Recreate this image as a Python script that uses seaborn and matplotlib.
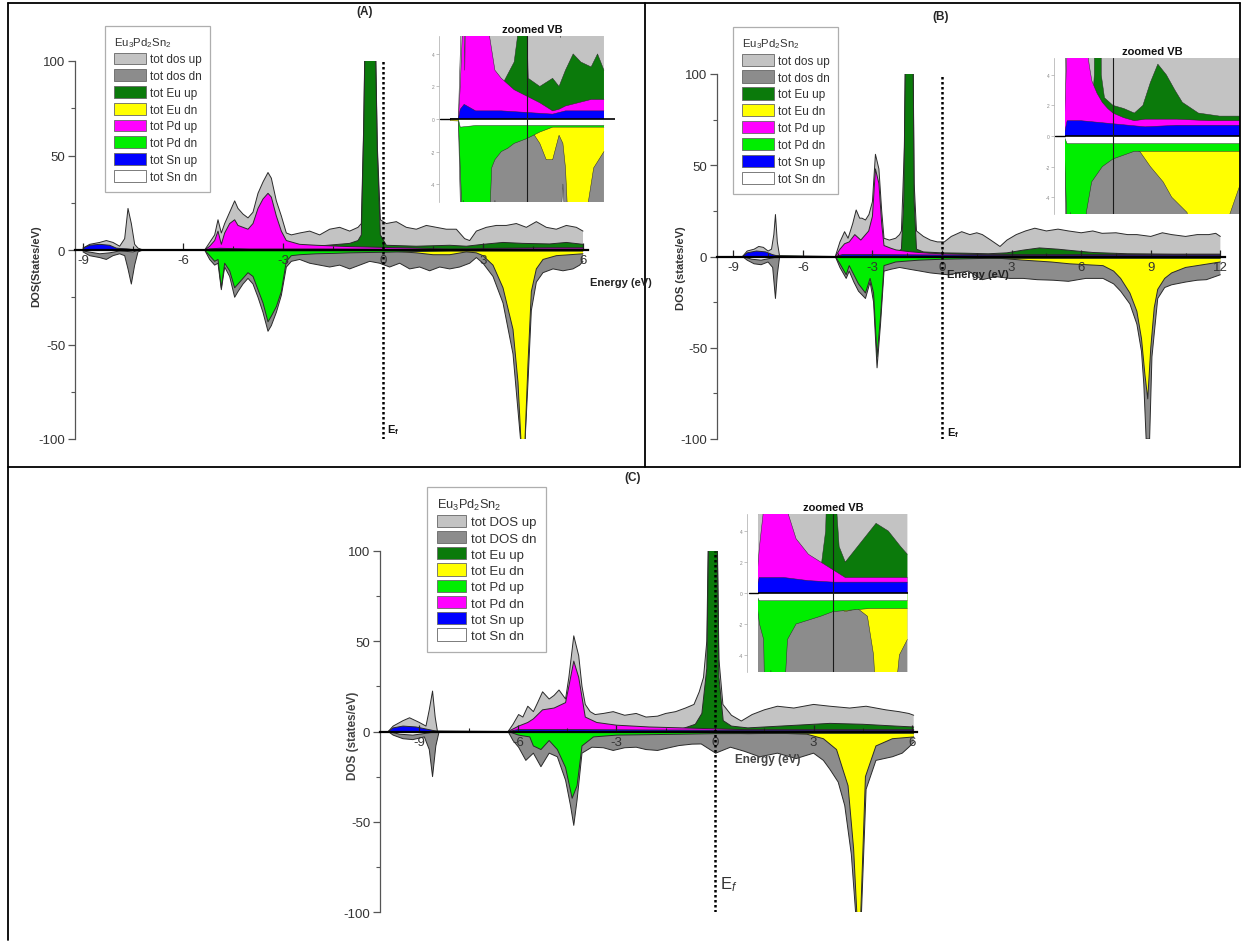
import numpy as np
import matplotlib
matplotlib.use("Agg")
import matplotlib.pyplot as plt
from matplotlib.patches import Patch
from matplotlib.lines import Line2D
import seaborn as sns

sns.set_style("white")
plt.rcParams['font.family'] = ['Liberation Sans', 'DejaVu Sans']
plt.rcParams['mathtext.fontset'] = 'custom'
plt.rcParams['mathtext.rm'] = 'Liberation Sans'
plt.rcParams['mathtext.it'] = 'Liberation Sans:italic'
plt.rcParams['mathtext.bf'] = 'Liberation Sans:bold'
plt.rcParams['axes.unicode_minus'] = False

# ------------------------------------------------------------------ data
# (energy eV, DOS states/eV)
A_tot_up = [(-9.0,1),(-8.8,3),(-8.5,4),(-8.3,5),(-8.1,4),(-7.9,2),(-7.75,6),(-7.65,22),(-7.55,14),(-7.45,3),(-7.35,1),(-7.2,0),
            (-5.35,0),(-5.2,4),(-5.05,8),(-4.95,16),(-4.85,9),(-4.75,14),(-4.6,20),(-4.45,26),(-4.35,22),(-4.2,19),(-4.05,17),
            (-3.9,20),(-3.75,30),(-3.6,36),(-3.45,41),(-3.35,38),(-3.2,26),(-3.05,18),(-2.9,9),(-2.75,8),(-2.5,9),(-2.2,10),
            (-1.9,8),(-1.6,11),(-1.3,12),(-1.0,10),(-0.75,12),(-0.65,14),(-0.58,65),(-0.52,135),(-0.25,135),(-0.17,55),
            (-0.08,16),(0.1,14),(0.4,15),(0.7,12),(1.0,11),(1.3,13),(1.6,12),(1.9,11),(2.2,11),(2.45,6),(2.6,5),(2.8,10),
            (3.1,12),(3.4,13),(3.7,13),(4.0,14),(4.3,12),(4.6,15),(4.9,12),(5.2,11),(5.5,13),(5.8,12),(6.0,10)]
A_eu_up = [(-9.0,0.3),(-7.7,0.5),(-7.3,0),(-5.35,0),(-4.0,0.5),(-3.0,1.5),(-2.0,2),(-1.0,3.5),(-0.75,5),(-0.65,8),
           (-0.58,62),(-0.52,132),(-0.25,132),(-0.17,52),(-0.08,8),(0.1,2.5),(1.0,2),(2.0,2.5),(2.5,2),(3.0,3),(3.6,4),
           (4.2,3.5),(5.0,3.2),(5.5,4),(6.0,3)]
A_pd_up = [(-5.35,0),(-5.2,2),(-5.05,5),(-4.95,10),(-4.85,3),(-4.75,9),(-4.6,14),(-4.45,16),(-4.35,13),(-4.2,12),(-4.05,11),
           (-3.9,14),(-3.75,22),(-3.6,27),(-3.45,30),(-3.35,28),(-3.2,18),(-3.05,10),(-2.9,5),(-2.5,3),(-2.0,2.5),
           (-1.0,1.8),(0.0,1.4),(1.0,1.0),(2.0,0.5),(2.5,0.6),(3.0,0.8),(4.0,1.0),(5.0,1.2),(6.0,1.2)]
A_sn_up = [(-9.0,1),(-8.8,2.5),(-8.5,3),(-8.2,2.5),(-8.0,1),(-7.7,0.5),(-7.4,0),(-5.35,0),(-5.2,0.6),(-4.9,0.9),
           (-4.0,0.5),(-2.0,0.5),(0.0,0.4),(2.0,0.3),(3.0,0.5),(6.0,0.5)]
A_tot_dn = [(-9.0,-1),(-8.8,-3),(-8.5,-4),(-8.3,-5),(-8.1,-3),(-7.9,-2),(-7.75,-3),(-7.65,-10),(-7.55,-18),(-7.45,-8),
            (-7.35,-1),(-7.2,0),(-5.35,0),(-5.2,-5),(-5.05,-8),(-4.95,-7),(-4.85,-21),(-4.75,-9),(-4.6,-14),(-4.45,-25),
            (-4.35,-22),(-4.2,-18),(-4.05,-15),(-3.9,-18),(-3.75,-25),(-3.6,-33),(-3.45,-43),(-3.35,-40),(-3.2,-33),
            (-3.05,-24),(-2.9,-9),(-2.75,-6),(-2.5,-5),(-2.2,-7),(-1.9,-8),(-1.6,-9),(-1.3,-8),(-1.0,-10),(-0.7,-8),
            (-0.4,-6),(-0.1,-7),(0.2,-9),(0.5,-7),(0.8,-10),(1.1,-9),(1.4,-11),(1.7,-9),(2.0,-10),(2.3,-9),(2.6,-7),
            (2.8,-4),(3.0,-7),(3.3,-14),(3.6,-28),(3.9,-55),(4.05,-85),(4.15,-105),(4.25,-105),(4.35,-70),(4.45,-32),
            (4.6,-17),(4.8,-12),(5.1,-10),(5.4,-11),(5.7,-10),(5.9,-8),(6.0,-6)]
A_eu_dn = [(-9.0,0),(0.0,-0.3),(1.0,-1.5),(1.5,-2.5),(2.0,-2.5),(2.5,-1),(2.8,-1.5),(3.0,-3),(3.3,-8),(3.6,-20),
           (3.9,-42),(4.05,-70),(4.15,-105),(4.25,-105),(4.35,-60),(4.45,-22),(4.6,-10),(4.8,-5),(5.2,-3),(5.6,-2.5),(6.0,-2)]
A_pd_dn = [(-5.35,0),(-5.2,-3),(-5.05,-6),(-4.95,-5),(-4.85,-20),(-4.75,-7),(-4.6,-11),(-4.45,-20),(-4.35,-18),
           (-4.2,-15),(-4.05,-12),(-3.9,-14),(-3.75,-21),(-3.6,-28),(-3.45,-38),(-3.35,-35),(-3.2,-30),(-3.05,-22),
           (-2.9,-6),(-2.75,-3),(-2.5,-2.5),(-2.0,-2),(-1.5,-1.8),(-1.0,-1.5),(0.0,-1.2),(1.0,-0.8),(2.0,-0.5),(6.0,-0.5)]
A_sn_dn = [(-9.0,-0.5),(-8.5,-2),(-8.2,-1.5),(-7.9,-0.5),(-7.5,-1),(-7.3,0),(-5.35,0),(-5.2,-0.5),(-4.0,-0.4),
           (0.0,-0.4),(3.0,-0.4),(6.0,-0.4)]

B_tot_up = [(-8.6,0),(-8.4,3),(-8.1,4),(-7.9,5.5),(-7.7,5),(-7.5,3),(-7.35,4),(-7.25,12),(-7.18,23),(-7.1,8),(-7.0,0),
            (-4.6,0),(-4.4,8),(-4.2,13.6),(-4.05,10),(-3.85,18),(-3.7,25.5),(-3.55,21),(-3.45,21),(-3.3,20),(-3.15,23),
            (-3.0,30),(-2.87,56),(-2.72,48),(-2.6,25),(-2.5,10),(-2.27,9),(-2.0,10),(-1.83,12),(-1.75,14),(-1.62,60),
            (-1.56,130),(-1.26,130),(-1.2,40),(-1.1,14),(-0.8,11),(-0.5,9),(-0.2,8),(0.1,8),(0.4,11),(0.85,13.6),
            (1.2,12),(1.5,13),(1.74,12),(2.1,9),(2.5,5.5),(2.8,9),(3.2,12),(3.6,14),(4.0,15.5),(4.5,14),(5.0,15),
            (5.45,14),(6.0,13),(6.5,14),(6.9,12.7),(7.5,13),(8.0,12),(8.4,12),(9.0,11),(9.5,13),(9.9,12),(10.5,11),
            (11.0,12),(11.5,12),(11.8,12.7),(12.0,11)]
B_eu_up = [(-8.6,0),(-7.0,0.5),(-4.6,0),(-3.0,1),(-2.0,1.5),(-1.75,4),(-1.65,30),(-1.56,130),(-1.26,130),(-1.2,30),
           (-1.1,4),(-0.8,2.5),(0.0,2),(1.0,1.8),(2.0,1.5),(2.8,2),(3.5,3.5),(4.2,4.7),(5.0,4),(5.8,3),(6.5,2.2),
           (8.0,1.5),(10.0,1.3),(12.0,1.3)]
B_pd_up = [(-4.6,0),(-4.4,4),(-4.2,7),(-4.0,8),(-3.76,12),(-3.5,9),(-3.16,14),(-3.0,22),(-2.87,48),(-2.72,40),
           (-2.6,18),(-2.5,6),(-2.2,4.5),(-1.98,3.6),(-1.5,2.8),(-1.0,2.2),(-0.5,1.8),(0.0,1.5),(1.0,1.2),(2.0,1.0),
           (3.0,1.1),(6.0,1.1),(9.0,1.0),(12.0,1.0)]
B_sn_up = [(-8.6,0),(-8.4,2),(-8.0,3),(-7.6,2.5),(-7.3,1),(-7.0,0),(-4.6,0),(-4.3,1),(-3.0,1),(0.0,0.8),(3.0,0.6),
           (6.0,0.7),(9.0,0.7),(12.0,0.7)]
B_tot_dn = [(-8.6,0),(-8.4,-2),(-8.1,-4),(-7.8,-4.5),(-7.5,-3),(-7.3,-6),(-7.18,-23),(-7.1,-10),(-7.0,0),(-4.6,0),
            (-4.4,-6),(-4.13,-12),(-4.0,-8),(-3.8,-14),(-3.6,-19),(-3.3,-23),(-3.1,-14),(-2.95,-25),(-2.8,-61),
            (-2.65,-37),(-2.5,-8),(-2.2,-7),(-1.83,-6),(-1.4,-7),(-0.94,-8),(-0.5,-9),(0.25,-10),(0.7,-9),(1.14,-8),
            (1.74,-12.7),(2.3,-11),(2.93,-12),(3.5,-12),(4.1,-12.7),(4.8,-13),(5.45,-13.6),(6.2,-12),(6.94,-12),
            (7.4,-15),(7.7,-19),(8.1,-26),(8.4,-37),(8.6,-52),(8.7,-70),(8.8,-100),(8.95,-100),(9.05,-55),(9.3,-23),
            (9.6,-17),(9.9,-15.5),(10.5,-14),(11.0,-13),(11.4,-12.7),(12.0,-10)]
B_eu_dn = [(-8.6,0),(0.0,-0.5),(2.5,-1),(3.5,-2),(4.7,-3),(5.5,-4),(6.94,-5),(7.4,-8),(7.7,-12),(8.1,-20),(8.4,-30),
           (8.6,-45),(8.75,-65),(8.87,-78),(9.0,-50),(9.15,-28),(9.3,-18),(9.6,-12),(9.9,-9),(10.5,-6),(11.0,-5),(12.0,-3)]
B_pd_dn = [(-4.6,0),(-4.4,-4),(-4.13,-10),(-4.0,-5),(-3.8,-10),(-3.6,-15),(-3.3,-20),(-3.1,-12),(-2.95,-20),
           (-2.8,-55),(-2.65,-33),(-2.5,-5),(-2.0,-3),(-1.0,-2),(0.0,-1.5),(2.0,-1),(6.0,-1),(12.0,-1)]
B_sn_dn = [(-8.6,0),(-8.2,-1.5),(-7.8,-2),(-7.4,-1),(-7.0,0),(-4.6,0),(-4.3,-0.5),(0.0,-0.5),(6.0,-0.5),(12.0,-0.5)]

C_tot_up = [(-9.95,0),(-9.8,3),(-9.5,6),(-9.3,7.6),(-9.0,5),(-8.8,3),(-8.7,12),(-8.6,22.4),(-8.52,8),(-8.45,0),
            (-6.3,0),(-6.15,4),(-5.98,9.4),(-5.85,8),(-5.7,14),(-5.53,11),(-5.4,16),(-5.25,22),(-5.05,18),(-4.9,20),
            (-4.75,23),(-4.55,18),(-4.45,30),(-4.3,53),(-4.15,42),(-4.05,25),(-3.95,15),(-3.8,11),(-3.65,9.4),(-3.4,10),
            (-3.1,11),(-2.75,9),(-2.4,10),(-2.1,8),(-1.75,8.5),(-1.5,10),(-1.2,11),(-0.9,13),(-0.64,15),(-0.48,22),
            (-0.35,30),(-0.25,50),(-0.18,135),(0.05,135),(0.12,40),(0.24,15),(0.5,9),(0.8,5.8),(1.13,9.4),(1.5,12),
            (1.9,14),(2.4,13),(3.0,15),(3.5,14),(4.1,13),(4.6,14),(5.2,12),(5.6,11),(5.9,10),(6.05,9)]
C_eu_up = [(-9.95,0),(-8.45,0.3),(-6.3,0),(-4.0,0.8),(-2.0,1.2),(-1.0,1.5),(-0.6,4),(-0.4,10),(-0.25,35),(-0.18,130),
           (0.05,130),(0.12,30),(0.25,6),(0.5,3),(1.0,2),(1.5,2.5),(2.5,3.5),(3.5,4.5),(4.5,4),(5.5,3),(6.05,2.5)]
C_pd_up = [(-6.3,0),(-5.98,3),(-5.7,5),(-5.53,7),(-5.25,12),(-4.9,13),(-4.55,16),(-4.45,25),(-4.3,39),(-4.15,30),
           (-3.95,8),(-3.6,5),(-3.0,3.5),(-2.0,2.5),(-1.0,2),(0.0,1.5),(1.0,1),(3.0,1),(6.05,1)]
C_sn_up = [(-9.95,0),(-9.8,2),(-9.5,3),(-9.1,2.5),(-8.7,1),(-8.45,0),(-6.3,0),(-6.0,1),(-4.0,1),(-2.0,0.8),(0.0,0.7),
           (3.0,0.7),(6.05,0.7)]
C_tot_dn = [(-9.95,0),(-9.8,-2),(-9.5,-4),(-9.2,-4.5),(-8.85,-3),(-8.7,-10),(-8.6,-25),(-8.5,-8),(-8.4,0),
            (-6.3,0),(-6.15,-5),(-5.98,-8.7),(-5.76,-16),(-5.53,-12),(-5.3,-19.5),(-5.05,-12),(-4.8,-14),(-4.55,-27),
            (-4.4,-41),(-4.3,-52),(-4.2,-38),(-4.05,-12),(-3.75,-8.7),(-3.4,-9),(-3.1,-10.5),(-2.75,-9),(-2.4,-8.7),
            (-2.1,-10),(-1.75,-10.5),(-1.4,-9),(-1.1,-7.8),(-0.7,-7),(-0.42,-6.9),(0.02,-12),(0.47,-8.7),(0.9,-11),
            (1.36,-14),(1.9,-12),(2.47,-15),(3.0,-12),(3.3,-16),(3.5,-21),(3.75,-28),(3.95,-41),(4.15,-68),(4.3,-105),
            (4.45,-105),(4.6,-32),(4.9,-16),(5.4,-14),(5.7,-12),(5.9,-8.7),(6.05,-6)]
C_eu_dn = [(-9.95,0),(-1.0,0),(0.0,-0.8),(1.0,-1.2),(2.0,-1),(2.8,-1.5),(3.3,-4),(3.7,-10),(4.05,-30),(4.22,-65),
           (4.33,-105),(4.43,-105),(4.58,-25),(4.9,-8),(5.4,-4),(6.05,-3)]
C_pd_dn = [(-6.3,0),(-5.98,-2),(-5.64,-3),(-5.53,-8),(-5.3,-10),(-5.05,-5),(-4.8,-10),(-4.55,-20),(-4.35,-37),
           (-4.2,-30),(-4.05,-8),(-3.7,-3),(-3.0,-2),(-1.0,-1.5),(0.0,-1.2),(3.0,-1),(6.05,-1)]
C_sn_dn = [(-9.95,0),(-9.6,-1.5),(-9.2,-2),(-8.8,-1),(-8.45,0),(-6.3,0),(-6.0,-0.5),(0.0,-0.5),(6.05,-0.5)]

legend_title = r"Eu$_3$Pd$_2$Sn$_2$"
labels_AB = ["tot dos up", "tot dos dn", "tot Eu up", "tot Eu dn", "tot Pd up", "tot Pd dn", "tot Sn up", "tot Sn dn"]
labels_C = ["tot DOS up", "tot DOS dn", "tot Eu up", "tot Eu dn", "tot Pd up", "tot Pd dn", "tot Sn up", "tot Sn dn"]
xticks_A = [-9, -6, -3, 0, 3, 6]
xticks_B = [-9, -6, -3, 0, 3, 6, 9, 12]
xticks_C = [-9, -6, -3, 0, 3, 6]
yticks = [-100, -50, 0, 50, 100]

# ------------------------------------------------------------------ style
LGRAY, DGRAY, DGREEN, YELLOW = "#c3c3c3", "#8c8c8c", "#0b7a0b", "#ffff00"
MAGENTA, LIME, BLUE, WHITE = "#ff00ff", "#00ee00", "#0000ff", "#ffffff"
legend_cols_AB = [LGRAY, DGRAY, DGREEN, YELLOW, MAGENTA, LIME, BLUE, WHITE]
legend_cols_C = [LGRAY, DGRAY, DGREEN, YELLOW, LIME, MAGENTA, BLUE, WHITE]

W, H = 1245, 945
fig = plt.figure(figsize=(W / 100, H / 100), dpi=100)


def pax(x0, y0, x1, y1):
    return fig.add_axes([x0 / W, 1 - y1 / H, (x1 - x0) / W, (y1 - y0) / H])


def draw_series(ax, pairs, color, edge_lw, z):
    arr = np.array(pairs, dtype=float)
    ax.fill_between(arr[:, 0], 0, arr[:, 1], facecolor=color, edgecolor="none", zorder=z)
    if edge_lw > 0:
        sns.lineplot(x=arr[:, 0], y=arr[:, 1], ax=ax, color="#2a2a2a", lw=edge_lw, zorder=z + 0.05,
                     sort=False, estimator=None, legend=False)


def draw_all(ax, up, dn, edge_lw):
    for pairs, col, z in zip(up, [LGRAY, DGREEN, MAGENTA, BLUE], [1.0, 1.2, 1.4, 1.6]):
        draw_series(ax, pairs, col, edge_lw, z)
    for pairs, col, z in zip(dn, [DGRAY, YELLOW, LIME, WHITE], [1.0, 1.2, 1.4, 1.6]):
        draw_series(ax, pairs, col, edge_lw, z)


def setup_main(ax, xlim, xticks):
    ax.set_axisbelow(False)
    ax.set_xlim(*xlim)
    ax.set_ylim(-100, 100)
    ax.patch.set_alpha(0)
    for s in ["top", "right"]:
        ax.spines[s].set_visible(False)
    ax.spines["bottom"].set_position(("data", 0))
    ax.spines["bottom"].set_linewidth(1.6)
    ax.spines["bottom"].set_color("black")
    ax.spines["bottom"].set_zorder(6)
    ax.spines["left"].set_color("#555555")
    ax.spines["left"].set_linewidth(0.9)
    ax.set_yticks(yticks)
    ax.set_yticks([-75, -25, 25, 75], minor=True)
    ax.set_xticks(xticks)
    ax.set_xticklabels([f"{t:g}" for t in xticks])
    ax.set_xticks([t + 1.5 for t in xticks[:-1]], minor=True)
    ax.tick_params(axis="y", which="major", direction="out", length=5, width=0.9, color="#555555",
                   labelsize=9.5, labelcolor="#333333", pad=2, left=True)
    ax.tick_params(axis="y", which="minor", direction="out", length=3, width=0.8, color="#555555", left=True)
    ax.tick_params(axis="x", which="major", direction="in", length=5, width=0.9, color="#222222",
                   labelsize=9.5, labelcolor="#333333", pad=3, bottom=True)
    ax.tick_params(axis="x", which="minor", direction="in", length=3, width=0.8, color="#222222", bottom=True)
    ax.set_xlabel("")
    ax.set_ylabel("")
    ax.axvline(0, ymin=0, ymax=1, color="black", lw=1.8, ls=(0, (1, 1)), zorder=7)


def setup_inset(ax, xlim):
    ax.set_axisbelow(False)
    ax.set_xlim(*xlim)
    ax.set_ylim(-5.1, 5.1)
    ax.patch.set_alpha(0)
    for s in ["top", "right", "bottom"]:
        ax.spines[s].set_visible(False)
    ax.spines["left"].set_color("#aaaaaa")
    ax.spines["left"].set_linewidth(0.5)
    ax.spines["left"].set_position(("outward", 8))
    ax.set_yticks([-4, -2, 0, 2, 4])
    ax.set_xticks([])
    ax.tick_params(axis="y", direction="out", length=2, width=0.5, color="#aaaaaa", labelsize=3.5,
                   labelcolor="#888888", pad=1, left=True)
    ax.axhline(0, color="black", lw=1.2, zorder=6)
    ax.plot([xlim[0] - 0.06 * (xlim[1] - xlim[0]), xlim[0]], [0, 0], color="black", lw=1.0, clip_on=False)
    ax.axvline(0, color="#1a1a1a", lw=0.8, zorder=7)
    ax.set_xlabel("")
    ax.set_ylabel("")
    ax.set_title("zoomed VB", fontsize=8, fontweight="bold", pad=3, color="#111111")


def add_legend(x0, y0, labels, cols, fs, hl, hh, ls):
    handles = [Patch(facecolor=c, edgecolor="#666666", lw=0.6) for c in cols]
    leg = fig.legend(handles, labels, loc="upper left", bbox_to_anchor=(x0 / W, 1 - y0 / H),
                     bbox_transform=fig.transFigure, title=legend_title, frameon=True, fancybox=False,
                     edgecolor="#9a9a9a", fontsize=fs, title_fontsize=fs - 0.3, alignment="left",
                     handlelength=hl, handleheight=hh, labelspacing=ls, handletextpad=0.35,
                     borderpad=0.75, borderaxespad=0)
    leg.get_frame().set_linewidth(0.9)
    for t in leg.get_texts():
        t.set_color("#333333")
    leg.get_title().set_color("#333333")
    return leg


def ftext(x, y, s, **kw):
    fig.text(x / W, 1 - y / H, s, **kw)


# ------------------------------------------------------------------ panel A
axA = pax(75, 62, 588, 440)
draw_all(axA, [A_tot_up, A_eu_up, A_pd_up, A_sn_up], [A_tot_dn, A_eu_dn, A_pd_dn, A_sn_dn], 0.7)
setup_main(axA, (-9.24, 6.15), xticks_A)
insA = pax(450, 37, 615, 203)
draw_all(insA, [A_tot_up, A_eu_up, A_pd_up, A_sn_up], [A_tot_dn, A_eu_dn, A_pd_dn, A_sn_dn], 0.35)
setup_inset(insA, (-6.0, 6.86))
add_legend(105, 27, labels_AB, legend_cols_AB, 8.5, 2.7, 1.15, 0.33)

# ------------------------------------------------------------------ panel B
axB = pax(717, 75, 1225, 440)
draw_all(axB, [B_tot_up, B_eu_up, B_pd_up, B_sn_up], [B_tot_dn, B_eu_dn, B_pd_dn, B_sn_dn], 0.7)
setup_main(axB, (-9.7, 12.2), xticks_B)
insB = pax(1065, 59, 1240, 215)
draw_all(insB, [B_tot_up, B_eu_up, B_pd_up, B_sn_up], [B_tot_dn, B_eu_dn, B_pd_dn, B_sn_dn], 0.35)
setup_inset(insB, (-4.5, 11.9))
add_legend(733, 28, labels_AB, legend_cols_AB, 8.5, 2.7, 1.2, 0.33)

# ------------------------------------------------------------------ panel C
axC = pax(380, 552, 917, 913)
draw_all(axC, [C_tot_up, C_eu_up, C_pd_up, C_sn_up], [C_tot_dn, C_eu_dn, C_pd_dn, C_sn_dn], 0.7)
setup_main(axC, (-10.2, 6.15), xticks_C)
insC = pax(758, 515, 908, 673)
draw_all(insC, [C_tot_up, C_eu_up, C_pd_up, C_sn_up], [C_tot_dn, C_eu_dn, C_pd_dn, C_sn_dn], 0.35)
setup_inset(insC, (-6.1, 6.1))
add_legend(427, 488, labels_C, legend_cols_C, 9.5, 2.2, 1.05, 0.2)

# ------------------------------------------------------------------ texts
ftext(365, 12, "(A)", ha="center", va="center", fontsize=8.5, fontweight="bold")
ftext(941, 17, "(B)", ha="center", va="center", fontsize=8.5, fontweight="bold")
ftext(633, 478, "(C)", ha="center", va="center", fontsize=8.5, fontweight="bold")
ftext(36, 266, "DOS(States/eV)", rotation=90, ha="center", va="center", fontsize=8, fontweight="bold", color="#333333")
ftext(681, 268, "DOS (states/eV)", rotation=90, ha="center", va="center", fontsize=8, fontweight="bold", color="#333333")
ftext(353, 736, "DOS (states/eV)", rotation=90, ha="center", va="center", fontsize=8.5, fontweight="bold", color="#444444")
ftext(590, 283, "Energy (eV)", ha="left", va="center", fontsize=8, fontweight="bold", color="#222222")
ftext(978, 275, "Energy (eV)", ha="center", va="center", fontsize=8, fontweight="bold", color="#222222")
ftext(768, 760, "Energy (eV)", ha="center", va="center", fontsize=8.5, fontweight="bold", color="#444444")
ftext(387, 430, r"$\mathbf{E_f}$", ha="left", va="center", fontsize=8, color="#111111")
ftext(947, 433, r"$\mathbf{E_f}$", ha="left", va="center", fontsize=8, color="#111111")
ftext(720, 885, r"E$_f$", ha="left", va="center", fontsize=12, color="#333333")

# ------------------------------------------------------------------ table borders
for (x0, y0, x1, y1) in [(8, 4, 1240, 4), (8, 4, 8, 941), (645, 4, 645, 468), (8, 468, 1240, 468),
                         (1240, 4, 1240, 468)]:
    fig.add_artist(Line2D([x0 / W, x1 / W], [1 - y0 / H, 1 - y1 / H], transform=fig.transFigure,
                          color="black", lw=1.3))

fig.savefig("out.png", dpi=100)
